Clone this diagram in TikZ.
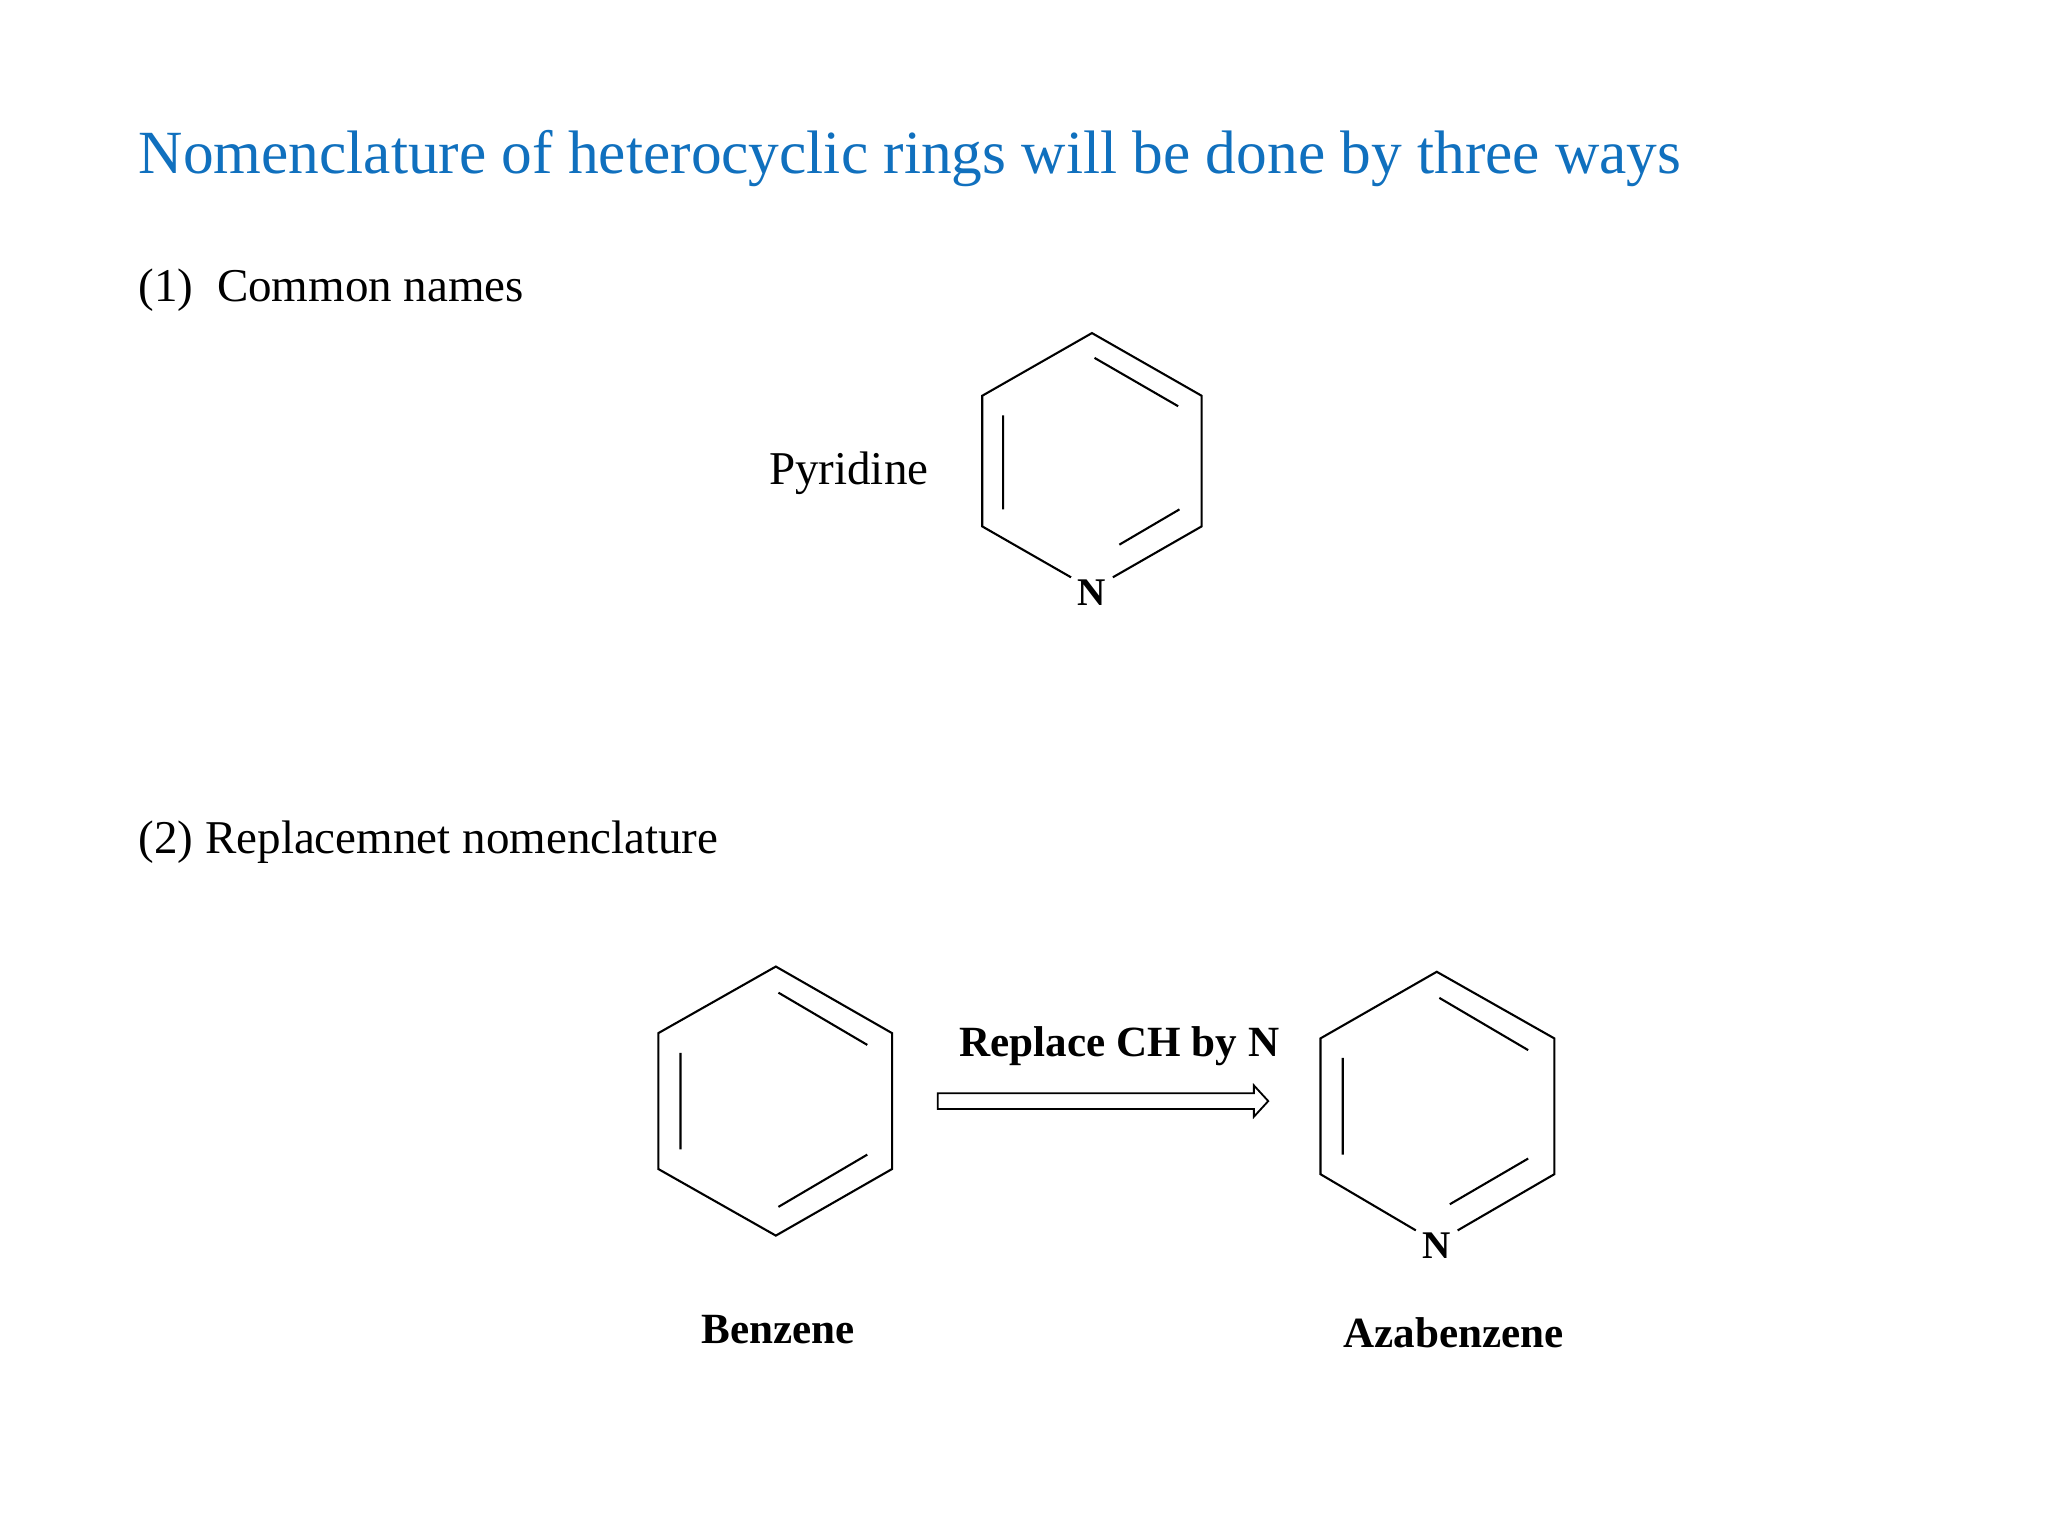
\documentclass[tikz,border=0pt]{standalone}
\usepackage{fontspec}
\setmainfont{Liberation Serif}
\definecolor{titleblue}{RGB}{16,112,190}
\begin{document}
\begin{tikzpicture}[x=1pt,y=-1pt,bond/.style={line width=1.6pt,line join=miter},
 lbl/.style={inner sep=0pt,font=\fontsize{36}{40}\selectfont},
 blbl/.style={inner sep=0pt,font=\bfseries\fontsize{33}{36}\selectfont},
 atom/.style={inner sep=1pt,font=\bfseries\fontsize{30}{32}\selectfont}]
\useasboundingbox[fill=white] (0,0) rectangle (1568,1176);
\node[anchor=west,inner sep=0pt,text=titleblue,font=\fontsize{47}{50}\selectfont] (title) at (106,121) {Nomenclature of heterocyclic rings will be done by three ways};
\node[lbl,anchor=west] (c1) at (106,222) {(1)\ \ Common names};
\node[lbl,anchor=east] (pyr) at (711,362) {Pyridine};
\node[lbl,anchor=west] (c2) at (106,645) {(2) Replacemnet nomenclature};
% pyridine
\node[atom] (n1) at (836,454) {N};
\draw[bond] (820,442)--(752,403)--(752,303)--(836,255)--(920,303)--(920,403)--(852,442);
\draw[bond] (838,274)--(902,311) (768,318)--(768,390) (903,390)--(857,417);
% benzene
\draw[bond] (594,740)--(683,791)--(683,895)--(594,946)--(504,895)--(504,791)--cycle;
\draw[bond] (596,760)--(664,800) (521,806)--(521,880) (664,884)--(596,924);
\node[blbl] (benz) at (596,1018) {Benzene};
% arrow
\node[blbl] (rep) at (857,801) {Replace CH by N};
\draw[line width=1.4pt,line join=miter] (718,837)--(960,837)--(960,831)--(971,843)--(960,855)--(960,849)--(718,849)--cycle;
% azabenzene
\node[atom] (n2) at (1100,954) {N};
\draw[bond] (1084,942)--(1011,899)--(1011,795)--(1100,744)--(1190,795)--(1190,899)--(1116,942);
\draw[bond] (1102,764)--(1170,804) (1028,810)--(1028,884) (1170,887)--(1110,922);
\node[blbl] (aza) at (1113,1020) {Azabenzene};
\end{tikzpicture}
\end{document}
